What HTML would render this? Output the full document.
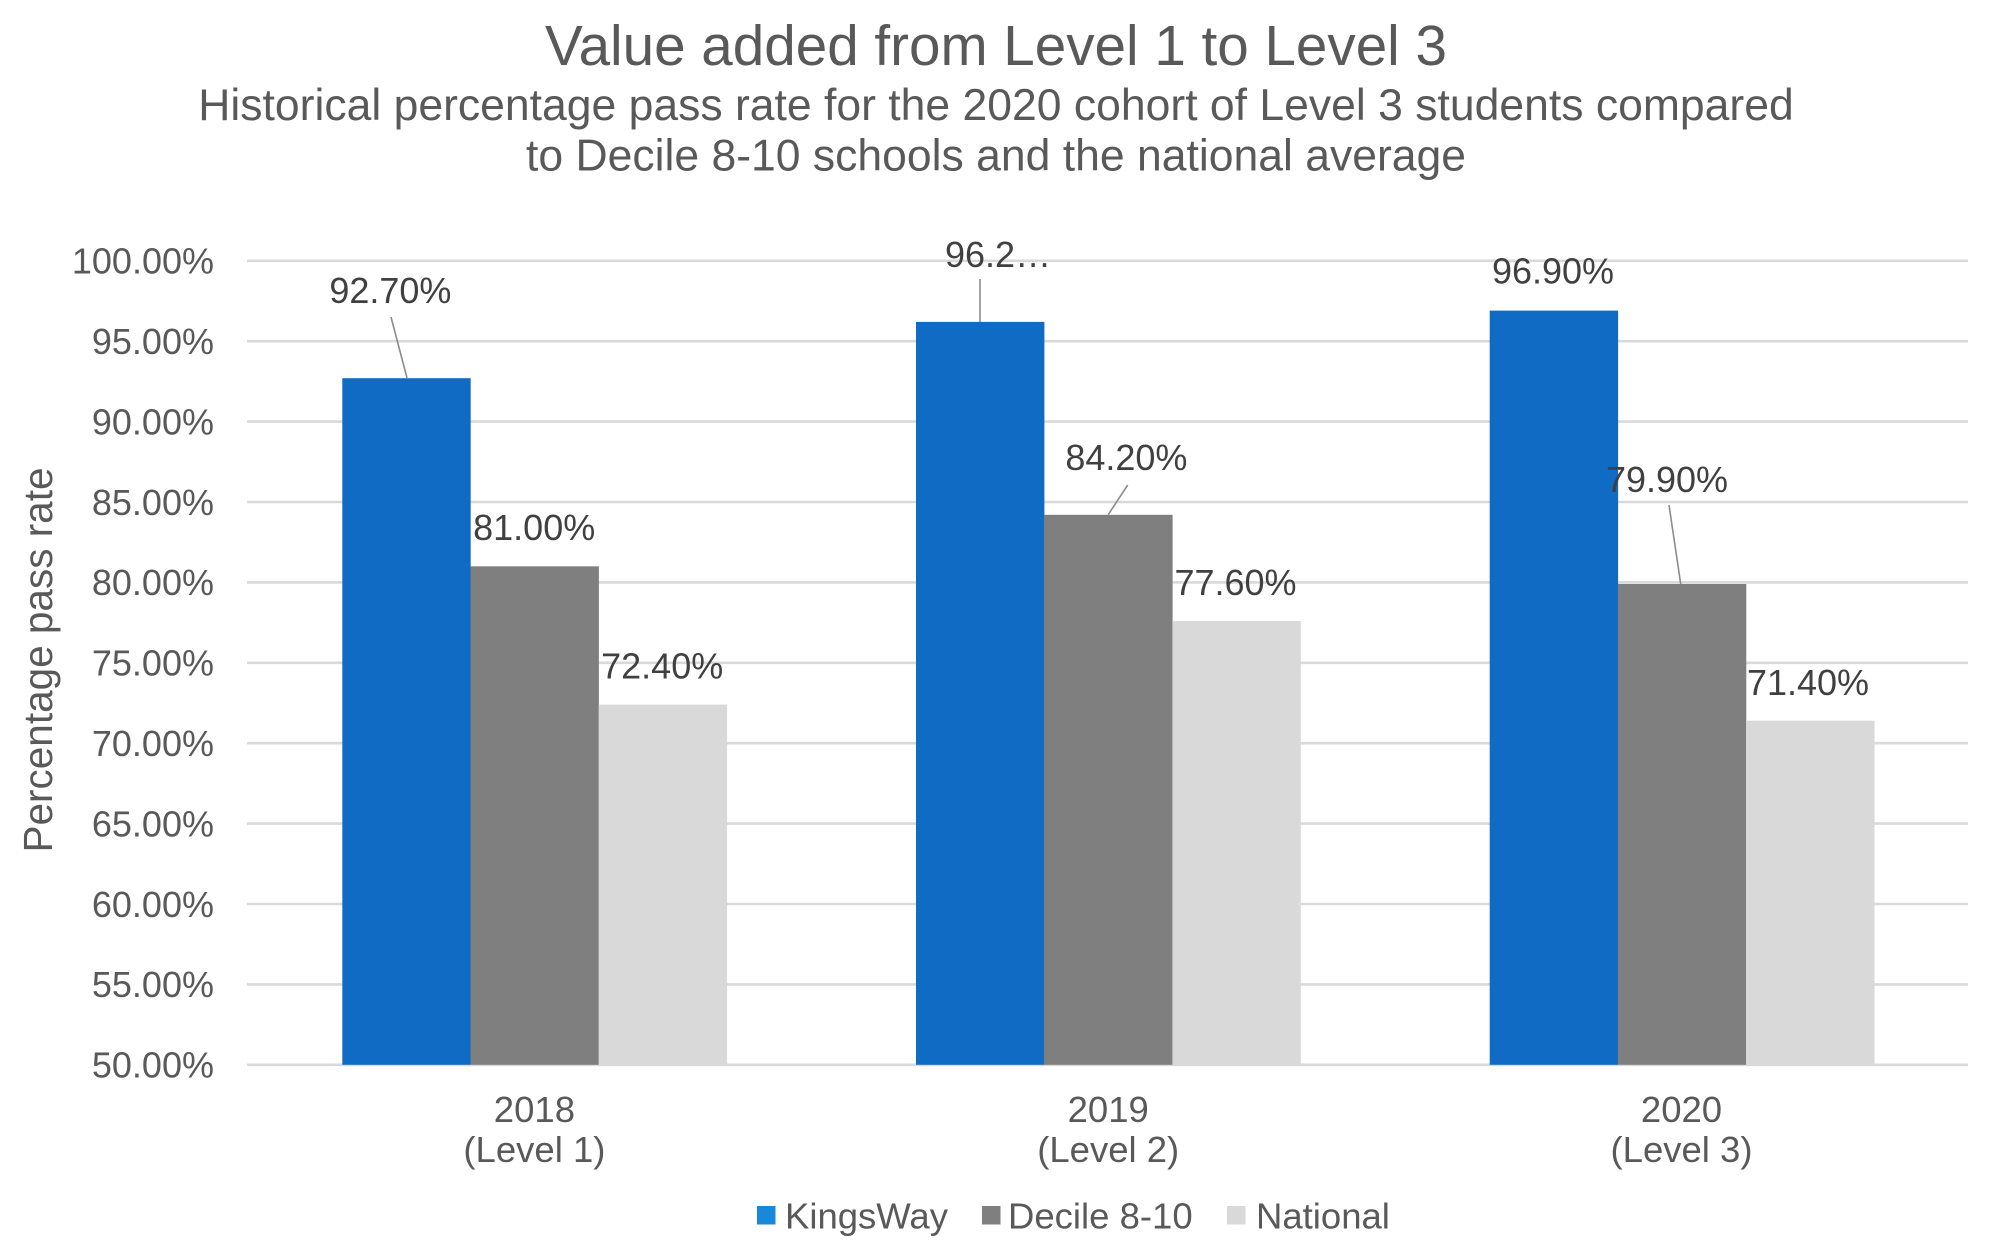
<!DOCTYPE html>
<html>
<head>
<meta charset="utf-8">
<style>
  html, body { margin: 0; padding: 0; background: #ffffff; }
  svg { display: block; }
  text { font-family: "Liberation Sans", Arial, sans-serif; }
</style>
</head>
<body>
<svg width="2000" height="1246" viewBox="0 0 2000 1246" xmlns="http://www.w3.org/2000/svg">
  <rect x="0" y="0" width="2000" height="1246" fill="#ffffff"/>

  <!-- Title -->
  <text x="996" y="65" font-size="56.6" fill="#595959" text-anchor="middle">Value added from Level 1 to Level 3</text>
  <text x="996" y="120" font-size="44.5" fill="#595959" text-anchor="middle">Historical percentage pass rate for the 2020 cohort of Level 3 students compared</text>
  <text x="996" y="170.5" font-size="44.5" fill="#595959" text-anchor="middle">to Decile 8-10 schools and the national average</text>

  <!-- Gridlines -->
  <g stroke="#d9d9d9" stroke-width="2.6">
    <line x1="247" y1="260.8" x2="1968" y2="260.8"/>
    <line x1="247" y1="341.2" x2="1968" y2="341.2"/>
    <line x1="247" y1="421.6" x2="1968" y2="421.6"/>
    <line x1="247" y1="502.0" x2="1968" y2="502.0"/>
    <line x1="247" y1="582.4" x2="1968" y2="582.4"/>
    <line x1="247" y1="662.8" x2="1968" y2="662.8"/>
    <line x1="247" y1="743.2" x2="1968" y2="743.2"/>
    <line x1="247" y1="823.6" x2="1968" y2="823.6"/>
    <line x1="247" y1="904.0" x2="1968" y2="904.0"/>
    <line x1="247" y1="984.4" x2="1968" y2="984.4"/>
    <line x1="247" y1="1064.8" x2="1968" y2="1064.8"/>
  </g>

  <!-- Y tick labels -->
  <g font-size="36" fill="#595959" text-anchor="end">
    <text x="214" y="273.6">100.00%</text>
    <text x="214" y="354.0">95.00%</text>
    <text x="214" y="434.4">90.00%</text>
    <text x="214" y="514.8">85.00%</text>
    <text x="214" y="595.2">80.00%</text>
    <text x="214" y="675.6">75.00%</text>
    <text x="214" y="756.0">70.00%</text>
    <text x="214" y="836.4">65.00%</text>
    <text x="214" y="916.8">60.00%</text>
    <text x="214" y="997.2">55.00%</text>
    <text x="214" y="1077.6">50.00%</text>
  </g>

  <!-- Y axis title -->
  <text transform="translate(52,660) rotate(-90)" font-size="40.5" fill="#595959" text-anchor="middle">Percentage pass rate</text>

  <!-- Bars -->
  <!-- Group 1 (2018) -->
  <rect x="342.3" y="378.2" width="128.4" height="686.6" fill="#106bc4"/>
  <rect x="470.5" y="566.3" width="128.4" height="498.5" fill="#7f7f7f"/>
  <rect x="598.7" y="704.6" width="128.4" height="360.2" fill="#d9d9d9"/>
  <!-- Group 2 (2019) -->
  <rect x="916" y="321.9" width="128.4" height="742.9" fill="#106bc4"/>
  <rect x="1044.2" y="514.8" width="128.4" height="550" fill="#7f7f7f"/>
  <rect x="1172.4" y="621.0" width="128.4" height="443.8" fill="#d9d9d9"/>
  <!-- Group 3 (2020) -->
  <rect x="1489.7" y="310.6" width="128.4" height="754.2" fill="#106bc4"/>
  <rect x="1617.9" y="584.0" width="128.4" height="480.8" fill="#7f7f7f"/>
  <rect x="1746.1" y="720.7" width="128.4" height="344.1" fill="#d9d9d9"/>

  <!-- Leader lines -->
  <g stroke="#8c8c8c" stroke-width="1.6" fill="none">
    <line x1="391" y1="317" x2="407" y2="378"/>
    <line x1="980" y1="279" x2="980" y2="322"/>
    <line x1="1127.7" y1="485" x2="1108.3" y2="514.5"/>
    <line x1="1669" y1="505" x2="1680.7" y2="584"/>
  </g>

  <!-- Data labels -->
  <g font-size="36" fill="#404040">
    <text x="390.4" y="302.9" text-anchor="middle">92.70%</text>
    <text x="534.2" y="540.2" text-anchor="middle">81.00%</text>
    <text x="662.2" y="678.5" text-anchor="middle">72.40%</text>
    <text x="945" y="266.9">96.2…</text>
    <text x="1126.4" y="470.2" text-anchor="middle">84.20%</text>
    <text x="1235.5" y="595.2" text-anchor="middle">77.60%</text>
    <text x="1553" y="283.5" text-anchor="middle">96.90%</text>
    <text x="1667" y="491.9" text-anchor="middle">79.90%</text>
    <text x="1808" y="695.2" text-anchor="middle">71.40%</text>
  </g>

  <!-- Category labels -->
  <g font-size="36.5" fill="#595959" text-anchor="middle">
    <text x="534.4" y="1122">2018</text>
    <text x="534.4" y="1162">(Level 1)</text>
    <text x="1108.2" y="1122">2019</text>
    <text x="1108.2" y="1162">(Level 2)</text>
    <text x="1681.5" y="1122">2020</text>
    <text x="1681.5" y="1162">(Level 3)</text>
  </g>

  <!-- Legend -->
  <rect x="757" y="1206" width="18.5" height="18.5" fill="#1a88d8"/>
  <text x="785" y="1228.5" font-size="36.5" fill="#595959">KingsWay</text>
  <rect x="982" y="1206" width="18.5" height="18.5" fill="#7f7f7f"/>
  <text x="1008" y="1228.5" font-size="36.5" fill="#595959">Decile 8-10</text>
  <rect x="1227" y="1206" width="18.5" height="18.5" fill="#d9d9d9"/>
  <text x="1256" y="1228.5" font-size="36.5" fill="#595959">National</text>
</svg>
</body>
</html>
